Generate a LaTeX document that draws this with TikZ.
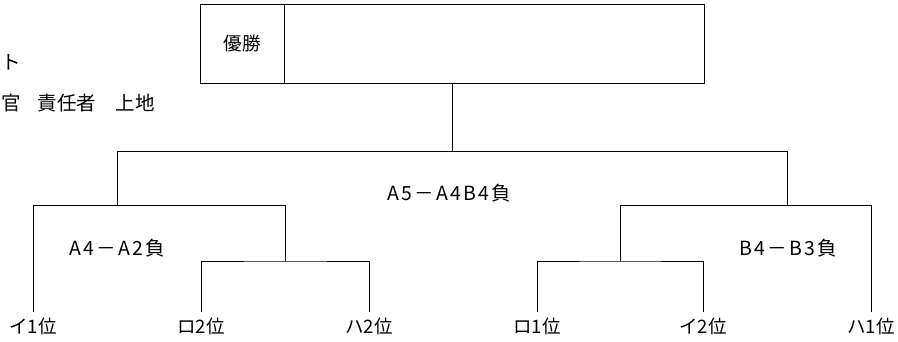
\documentclass[tikz,border=0pt]{standalone}
\usepackage{fontspec}
\setmainfont{Noto Sans CJK JP}
\usetikzlibrary{positioning}

\begin{document}
\begin{tikzpicture}[
  x=1pt,y=-1pt,line width=1pt,
  team/.style={anchor=north,inner xsep=0pt,inner ysep=6pt,font=\fontsize{18.5}{20}\selectfont},
  glabel/.style={inner sep=0pt,font=\fontsize{19.5}{22}\selectfont\addfontfeature{LetterSpace=11}},
  wbox/.style={draw,minimum height=79pt,inner sep=0pt,outer sep=0pt,font=\fontsize{18.5}{20}\selectfont},
  note/.style={anchor=west,inner sep=0pt,font=\fontsize{19.5}{22}\selectfont},
]
\useasboundingbox (0,0) rectangle (898,341);
\node[note] (place) at (1,62) {ト};
\node[note] (staff) at (1,103) {官\hspace{17pt}責任者　上地};
\node[wbox,minimum width=84pt,anchor=north west] (wlabel) at (200,4) {優勝};
\node[wbox,minimum width=420pt,right=0pt of wlabel] (wname) {};
\node[team] (t1) at (33,312) {イ1位};
\node[team] (t2) at (201,312) {ロ2位};
\node[team] (t3) at (369,312) {ハ2位};
\node[team] (t4) at (537,312) {ロ1位};
\node[team] (t5) at (703,312) {イ2位};
\node[team] (t6) at (871,312) {ハ1位};
\node[glabel] (gA) at (117,248) {A4－A2負};
\node[glabel] (gB) at (788,248) {B4－B3負};
\node[glabel] (gF) at (449,193) {A5－A4B4負};
\coordinate (m1) at (285,261);
\coordinate (m2) at (117,205);
\coordinate (m3) at (620,261);
\coordinate (m4) at (787,205);
\coordinate (fin) at (452,151);
\draw (t2.north) |- (m1) -| (t3.north);
\draw (m1) -- (m1 |- m2);
\draw (t1.north) |- (m1 |- m2);
\draw (t4.north) |- (m3) -| (t5.north);
\draw (m3) -- (m3 |- m4);
\draw (m3 |- m4) -| (t6.north);
\draw (m2) -- (m2 |- fin) -- (m4 |- fin) -- (m4);
\draw (fin) -- (fin |- wname.south);
\end{tikzpicture}
\end{document}
